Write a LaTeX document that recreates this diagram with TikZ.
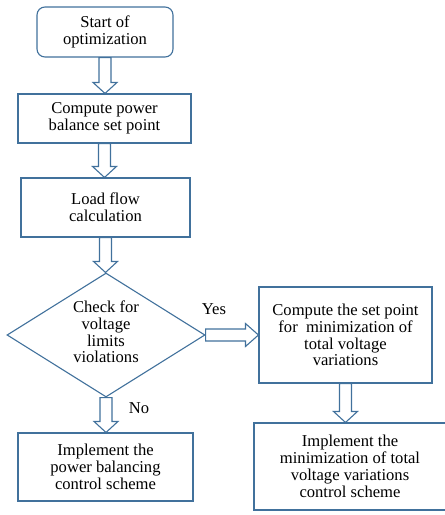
\documentclass[tikz,border=0pt]{standalone}
\usepackage{fontspec}
\setmainfont{Liberation Serif}
\usetikzlibrary{shapes.geometric,calc}
\definecolor{bc}{HTML}{41719C}
\tikzset{
  box/.style={draw=bc, line width=1.1pt, fill=white, align=center, inner sep=0pt,
    font=\fontsize{16.6}{16.8}\selectfont},
  dia/.style={draw=bc, line width=1.1pt, fill=white, inner sep=0pt, diamond},
  blk/.style={draw=bc, line width=1.1pt, fill=white, line join=miter},
  lbl/.style={font=\fontsize{16.6}{16.8}\selectfont, inner sep=0pt}
}
\newcommand\vblk[2]{%
  \draw[blk] let \p1=(#1), \p2=(#2) in
    (\x1-6pt,\y1) -- (\x1-6pt,\y2+11pt) -- (\x1-12pt,\y2+11pt) -- (\x1,\y2)
    -- (\x1+12pt,\y2+11pt) -- (\x1+6pt,\y2+11pt) -- (\x1+6pt,\y1) -- cycle;}
\newcommand\hblk[2]{%
  \draw[blk] let \p1=(#1), \p2=(#2) in
    (\x1,\y1+6pt) -- (\x2-13pt,\y1+6pt) -- (\x2-13pt,\y1+11.5pt) -- (\x2,\y1)
    -- (\x2-13pt,\y1-11.5pt) -- (\x2-13pt,\y1-6pt) -- (\x1,\y1-6pt) -- cycle;}
\begin{document}
\begin{tikzpicture}[x=1pt,y=-1pt]
\useasboundingbox (0,0) rectangle (445,515);
\node[box, rounded corners=8pt, minimum width=136pt, minimum height=50pt] (start) at (105,32) {Start of\\optimization};
\node[box, minimum width=173pt, minimum height=49pt] (bal) at (104.5,118.5) {Compute power\\balance set point};
\node[box, minimum width=169pt, minimum height=59pt] (lf) at (105.5,207.5) {Load flow\\calculation};
\node[dia, minimum width=198pt, minimum height=124pt] (chk) at (106,335) {};
\node[lbl, align=center] (chkt) at (106,332) {Check for\\voltage\\limits\\violations};
\node[box, minimum width=175pt, minimum height=68pt] (pb) at (105.5,467) {Implement the\\power balancing\\control scheme};
\node[box, minimum width=173pt, minimum height=96pt] (sp) at (345.5,335) {Compute the set point\\for\ \ minimization of\\total voltage\\variations};
\node[box, minimum width=192pt, minimum height=87pt] (mv) at (350,466.5) {Implement the\\minimization of total\\voltage variations\\control scheme};
\vblk{start.south}{bal.north}
\vblk{bal.south}{lf.north}
\vblk{lf.south}{chk.north}
\vblk{chk.south}{pb.north}
\vblk{sp.south}{mv.north}
\hblk{chk.east}{sp.west}
\node[lbl] (yes) at (214,309) {Yes};
\node[lbl] (no) at (139,408) {No};
\end{tikzpicture}
\end{document}
